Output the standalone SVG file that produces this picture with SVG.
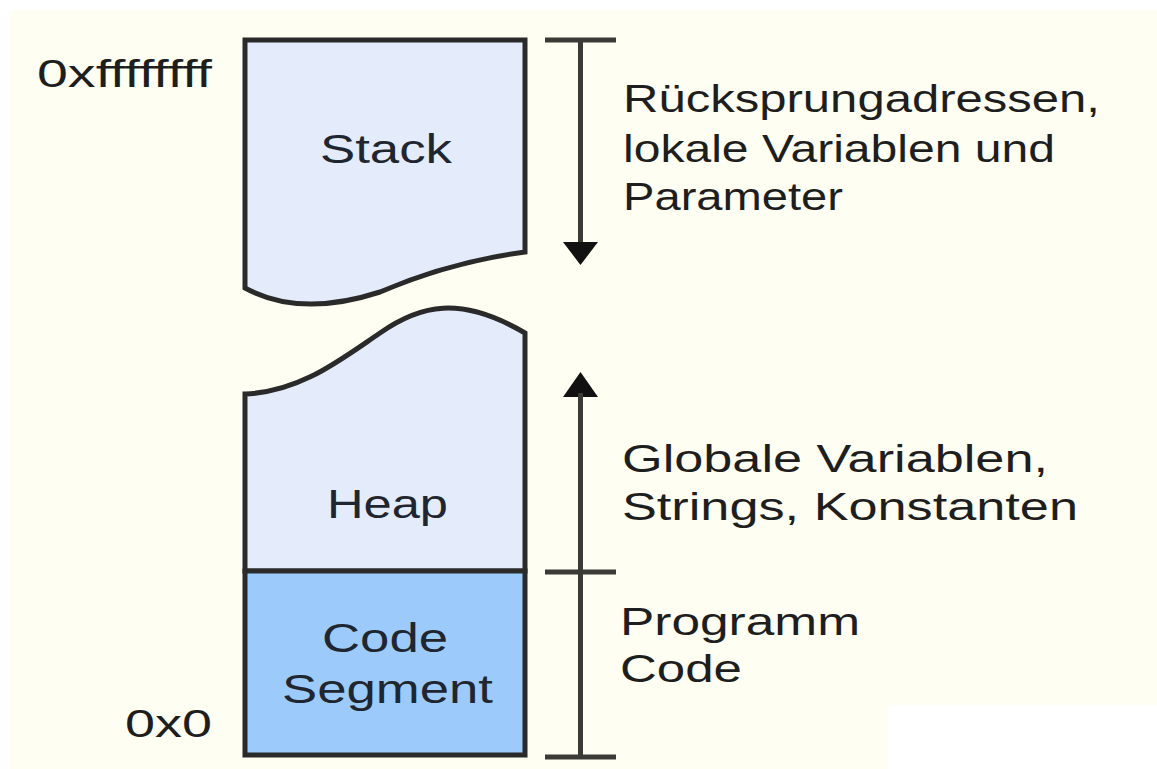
<svg xmlns="http://www.w3.org/2000/svg" width="1157" height="769" viewBox="0 0 1157 769">
<style>
.bg{fill:#fefef2}
.seg{stroke:#2a2a2a;stroke-width:5;stroke-linejoin:miter}
.light{fill:#e4ecfb}
.code{fill:#9ccafa}
.lbl{font-family:"Liberation Sans",Arial,sans-serif;font-size:40px;fill:#1f2630}
.txt{font-family:"Liberation Sans",Arial,sans-serif;font-size:38px;fill:#1e1e1e}
.ln{stroke:#3a3a36;stroke-width:5;fill:none}
.hd{fill:#111}
</style>
<rect x="0" y="0" width="1157" height="769" fill="#ffffff"/>
<rect class="bg" x="9" y="10" width="1148" height="759"/>
<rect x="888" y="705" width="269" height="64" fill="#ffffff"/>
<g id="stack">
<path class="seg light" d="M245,40 L525,40 L525,252 Q450,262 380,292 Q300,318 245,288 Z"/>
<text class="lbl" x="320" y="163" textLength="132" lengthAdjust="spacingAndGlyphs">Stack</text>
</g>
<g id="heap">
<path class="seg light" d="M245,394 C300,392 340,360 380,333 C420,305 460,295 525,333 L525,571 L245,571 Z"/>
<text class="lbl" x="327" y="518" textLength="121" lengthAdjust="spacingAndGlyphs">Heap</text>
</g>
<g id="code-segment">
<rect class="seg code" x="245" y="571" width="280" height="184"/>
<text class="lbl" x="322" y="652" textLength="126" lengthAdjust="spacingAndGlyphs">Code</text>
<text class="lbl" x="282" y="703" textLength="211" lengthAdjust="spacingAndGlyphs">Segment</text>
</g>
<g id="addresses">
<text class="txt" x="37" y="87" textLength="175" lengthAdjust="spacingAndGlyphs">0xffffffff</text>
<text class="txt" x="125" y="737" textLength="87" lengthAdjust="spacingAndGlyphs">0x0</text>
</g>
<g id="connectors">
<line class="ln" x1="545" y1="40" x2="616" y2="40"/>
<line class="ln" x1="580.5" y1="40" x2="580.5" y2="246"/>
<polygon class="hd" points="563,242 598,242 580.5,265"/>
<polygon class="hd" points="563,397 598,397 580.5,372"/>
<line class="ln" x1="580.5" y1="393" x2="580.5" y2="757"/>
<line class="ln" x1="545" y1="572" x2="616" y2="572"/>
<line class="ln" x1="545" y1="757" x2="616" y2="757"/>
</g>
<g id="descriptions">
<text class="txt" x="623" y="112" textLength="477" lengthAdjust="spacingAndGlyphs">Rücksprungadressen,</text>
<text class="txt" x="623" y="162" textLength="432" lengthAdjust="spacingAndGlyphs">lokale Variablen und</text>
<text class="txt" x="623" y="210" textLength="220" lengthAdjust="spacingAndGlyphs">Parameter</text>
<text class="txt" x="622" y="472" textLength="426" lengthAdjust="spacingAndGlyphs">Globale Variablen,</text>
<text class="txt" x="622" y="520" textLength="456" lengthAdjust="spacingAndGlyphs">Strings, Konstanten</text>
<text class="txt" x="620" y="635" textLength="240" lengthAdjust="spacingAndGlyphs">Programm</text>
<text class="txt" x="620" y="682" textLength="122" lengthAdjust="spacingAndGlyphs">Code</text>
</g>
</svg>
